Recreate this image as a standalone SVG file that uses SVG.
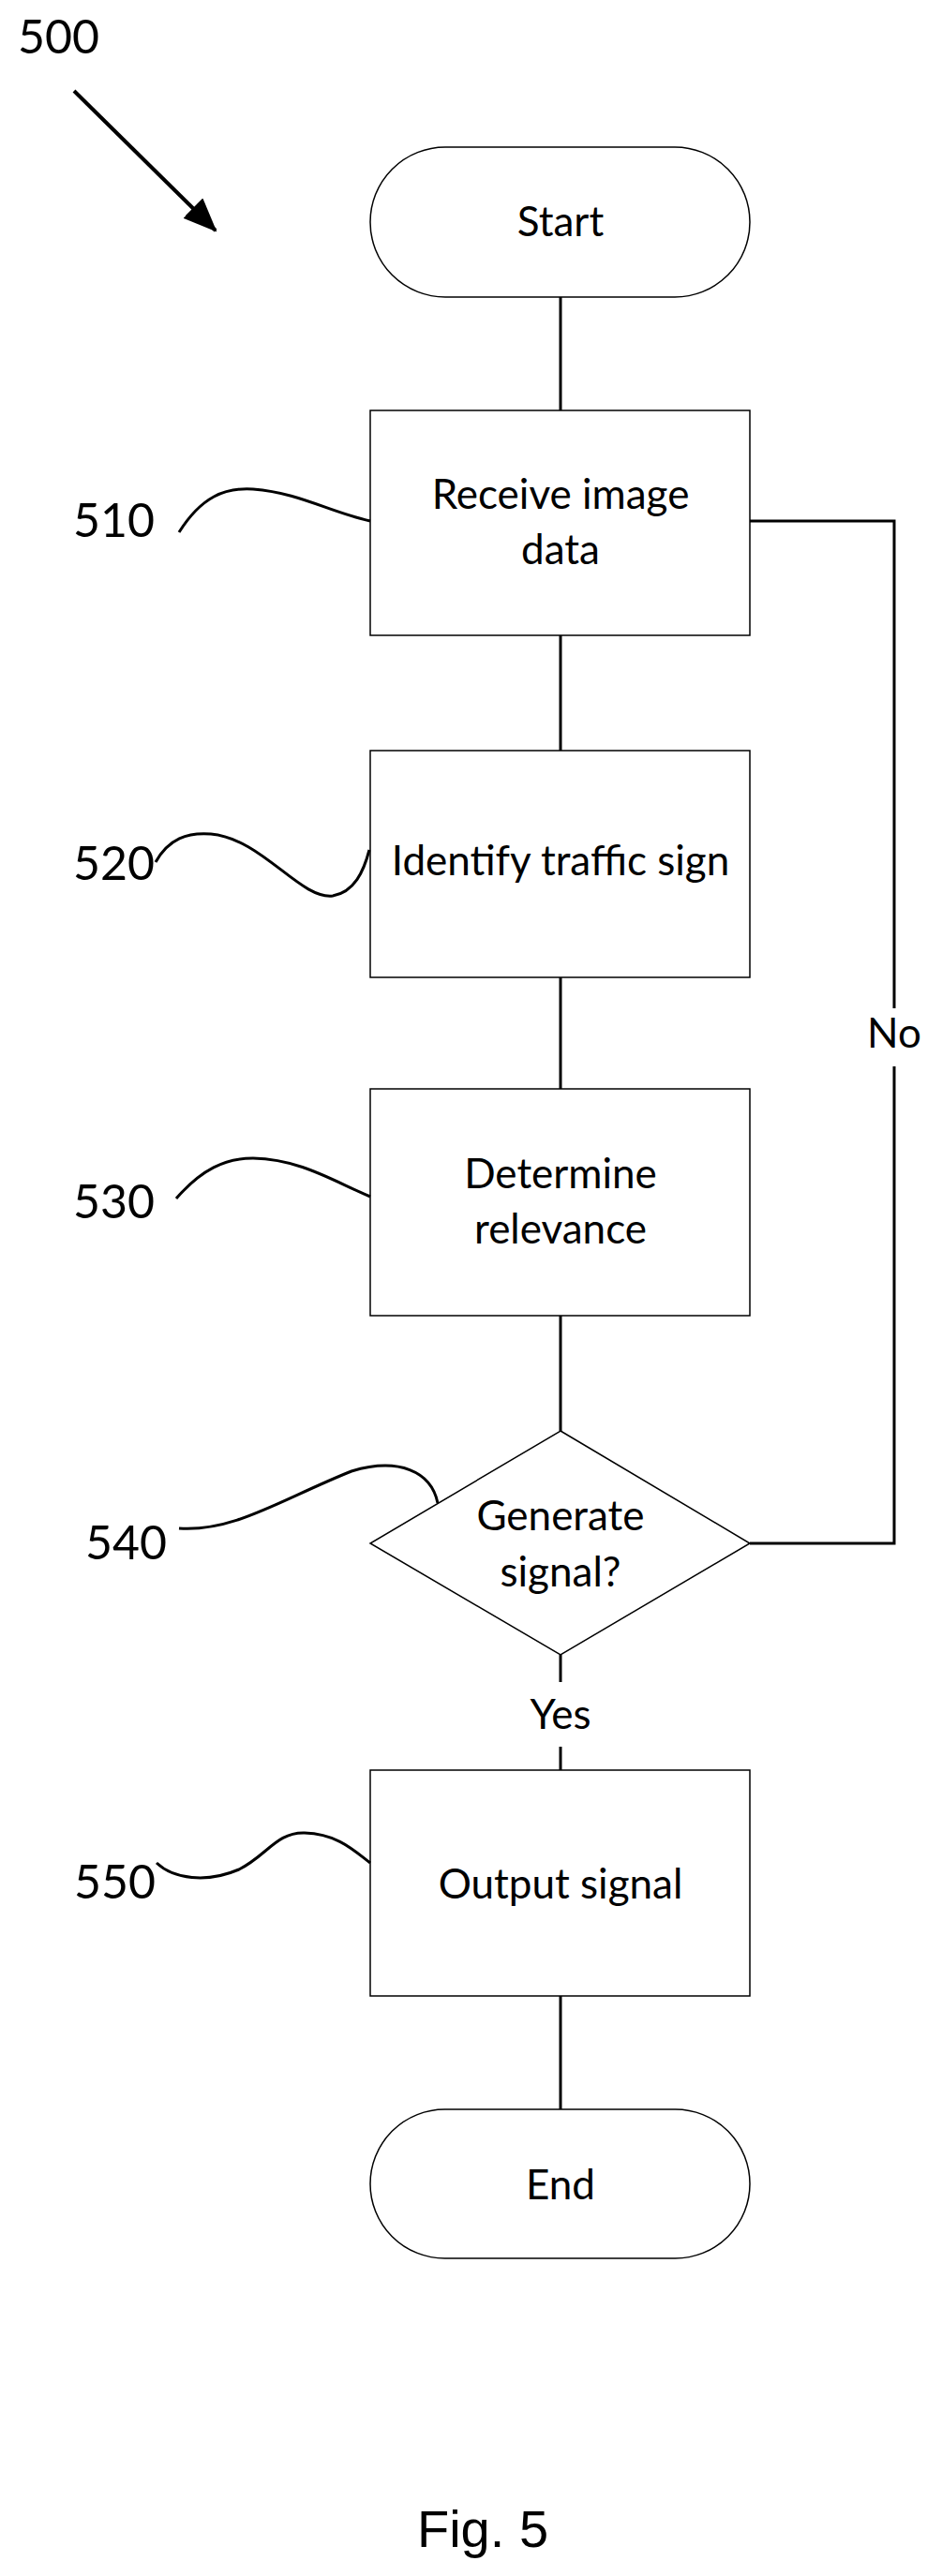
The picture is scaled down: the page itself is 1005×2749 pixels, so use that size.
<svg xmlns="http://www.w3.org/2000/svg" width="1005" height="2749" viewBox="0 0 1005 2749">
<defs>
<marker id="big" markerWidth="36" markerHeight="30" refX="34" refY="15" orient="auto" markerUnits="userSpaceOnUse"><path d="M0,0 L36,15 L0,30 z" fill="#000"/></marker>
</defs>
<style>
.shape{fill:#fff;stroke:#000;stroke-width:1.5}
.con{fill:none;stroke:#000;stroke-width:3}
.lead{fill:none;stroke:#000;stroke-width:3}
.t{font-family:Lato,"Open Sans",sans-serif;font-size:44px;text-anchor:middle;fill:#000}
.ref{font-family:Lato,"Open Sans",sans-serif;font-size:50px;fill:#000}
</style>
<rect width="1005" height="2749" fill="#fff"/>
<g id="connectors">
<line class="con" x1="598" y1="317" x2="598" y2="438"/>
<line class="con" x1="598" y1="678" x2="598" y2="801"/>
<line class="con" x1="598" y1="1043" x2="598" y2="1162"/>
<line class="con" x1="598" y1="1404" x2="598" y2="1527"/>
<line class="con" x1="598" y1="1766" x2="598" y2="1795"/>
<line class="con" x1="598" y1="1864" x2="598" y2="1889"/>
<line class="con" x1="598" y1="2130" x2="598" y2="2251"/>
<polyline class="con" points="800,1647 954,1647 954,1138"/>
<polyline class="con" points="954,1076 954,556 800,556"/>
<text class="t" x="954" y="1118">No</text>
<text class="t" x="598" y="1845">Yes</text>
</g>
<g id="n500">
<text class="ref" x="19" y="57">500</text>
<line x1="79" y1="97" x2="230" y2="246" stroke="#000" stroke-width="4" marker-end="url(#big)"/>
</g>
<g id="start">
<rect class="shape" x="395" y="157" width="405" height="160" rx="80" ry="80"/>
<text class="t" x="598" y="252">Start</text>
</g>
<g id="n510">
<rect class="shape" x="395" y="438" width="405" height="240"/>
<text class="t" x="598" y="543">Receive image</text>
<text class="t" x="598" y="602">data</text>
<text class="ref" x="78" y="573">510</text>
<path class="lead" d="M191,568 C215,530 240,520 270,522 C320,526 350,546 395,556"/>
</g>
<g id="n520">
<rect class="shape" x="395" y="801" width="405" height="242"/>
<text class="t" x="598" y="934" font-size="42">Identify traffic sign</text>
<text class="ref" x="78" y="939">520</text>
<path class="lead" d="M166,920 C180,895 200,888 225,890 C280,895 320,960 355,956 C378,952 388,930 394,907"/>
</g>
<g id="n530">
<rect class="shape" x="395" y="1162" width="405" height="242"/>
<text class="t" x="598" y="1268">Determine</text>
<text class="t" x="598" y="1327">relevance</text>
<text class="ref" x="78" y="1300">530</text>
<path class="lead" d="M188,1279 C215,1248 240,1236 270,1236 C320,1237 355,1260 395,1277"/>
</g>
<g id="n540">
<polygon class="shape" points="598,1527 800,1647 598,1766 395,1647"/>
<text class="t" x="598" y="1633">Generate</text>
<text class="t" x="598" y="1693">signal?</text>
<text class="ref" x="91" y="1664">540</text>
<path class="lead" d="M191,1631 C250,1635 300,1600 375,1570 C425,1555 460,1570 467,1604"/>
</g>
<g id="n550">
<rect class="shape" x="395" y="1889" width="405" height="241"/>
<text class="t" x="598" y="2026">Output signal</text>
<text class="ref" x="79" y="2026">550</text>
<path class="lead" d="M167,1988 C185,2005 220,2010 255,1995 C285,1980 295,1955 325,1956 C360,1957 378,1975 395,1988"/>
</g>
<g id="end">
<rect class="shape" x="395" y="2251" width="405" height="159" rx="79.5" ry="79.5"/>
<text class="t" x="598" y="2347">End</text>
</g>
<text x="515" y="2718" font-family="Liberation Sans,Arial,sans-serif" font-size="56" text-anchor="middle">Fig. 5</text>
</svg>
